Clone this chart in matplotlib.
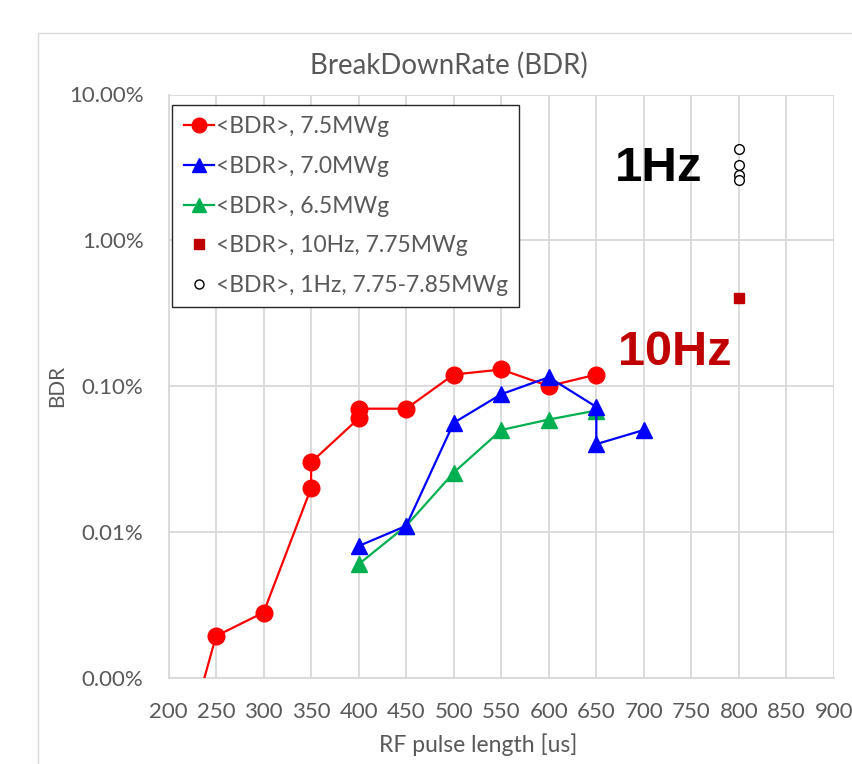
import matplotlib
matplotlib.use("Agg")
import matplotlib.pyplot as plt
from matplotlib.lines import Line2D
from matplotlib.patches import Rectangle
from matplotlib.ticker import FixedLocator, FuncFormatter, NullLocator

# Breakdown rate vs RF pulse length
red_x = [200, 250, 300, 350, 350, 400, 400, 450, 500, 550, 600, 650]
red_y = [1.3e-6, 1.93e-5, 2.8e-5, 2.0e-4, 3.0e-4, 6.0e-4, 7.0e-4, 7.0e-4, 1.2e-3, 1.3e-3, 1.0e-3, 1.2e-3]

blue_x = [400, 450, 500, 550, 600, 650, 650, 700]
blue_y = [8.0e-5, 1.1e-4, 5.6e-4, 8.8e-4, 1.15e-3, 7.2e-4, 4.0e-4, 5.0e-4]

green_x = [400, 450, 500, 550, 600, 650]
green_y = [6.0e-5, 1.1e-4, 2.55e-4, 5.0e-4, 5.9e-4, 6.8e-4]

hz10_x = [800]
hz10_y = [4.0e-3]

hz1_x = [800, 800, 800, 800]
hz1_y = [4.25e-2, 3.3e-2, 2.8e-2, 2.6e-2]

labels = ["<BDR>, 7.5MWg", "<BDR>, 7.0MWg", "<BDR>, 6.5MWg",
          "<BDR>, 10Hz, 7.75MWg", "<BDR>, 1Hz, 7.75-7.85MWg"]
x_ticks = list(range(200, 901, 50))
y_ticks = [1e-5, 1e-4, 1e-3, 1e-2, 1e-1]

W, H = 852, 764
plt.rcParams['font.family'] = ['Lato', 'DejaVu Sans']
fig = plt.figure(figsize=(W / 100, H / 100), dpi=100)

GRAY_TXT = "#595959"
GRID = "#D9D9D9"

# chart area outline
fig.patches.append(Rectangle((38 / W, -0.1), 1.2, (H - 33) / H + 0.1,
                             transform=fig.transFigure, fill=False,
                             edgecolor=GRID, linewidth=1.0))

ax = fig.add_axes([168.5 / W, 1 - 677.7 / H, (834 - 168.5) / W, (677.7 - 94.5) / H])
ax.set_yscale("log")
ax.set_xlim(200, 900)
ax.set_ylim(1e-5, 1e-1)

ax.xaxis.set_major_locator(FixedLocator(x_ticks))
ax.yaxis.set_major_locator(FixedLocator(y_ticks))
ax.yaxis.set_minor_locator(NullLocator())
ax.yaxis.set_major_formatter(FuncFormatter(lambda v, p: f"{v * 100:.2f}%"))
ax.grid(True, color=GRID, linewidth=1.3)
ax.set_axisbelow(True)
for s in ["top", "right"]:
    ax.spines[s].set_visible(False)
for s in ["left", "bottom"]:
    ax.spines[s].set_color(GRID)
    ax.spines[s].set_linewidth(1.3)
ax.tick_params(length=0, labelsize=16, colors=GRAY_TXT)
ax.tick_params(axis="x", pad=17.5)
ax.tick_params(axis="y", pad=18)

ax.plot(red_x, red_y, color="#FF0000", lw=1.6, marker="o", ms=12, zorder=3)
ax.plot(blue_x, blue_y, color="#0000FF", lw=1.6, marker="^", ms=11, zorder=4)
ax.plot(green_x, green_y, color="#00B050", lw=1.6, marker="^", ms=11, zorder=3)
ax.plot(hz10_x, hz10_y, ls="none", marker="s", ms=7.5, color="#C00000", zorder=5)
ax.plot(hz1_x, hz1_y, ls="none", marker="o", ms=7, mfc="white", mec="black",
        mew=1.0, zorder=5)

ax.text(0.671, 0.8517, "1Hz", transform=ax.transAxes, fontsize=35.5,
        fontweight="bold", family="Liberation Sans", color="black", va="baseline")
ax.text(0.6754, 0.536, "10Hz", transform=ax.transAxes, fontsize=35,
        fontweight="bold", family="Liberation Sans", color="#C00000", va="baseline")

handles = [
    Line2D([], [], color="#FF0000", lw=1.6, marker="o", ms=10.5),
    Line2D([], [], color="#0000FF", lw=1.6, marker="^", ms=10),
    Line2D([], [], color="#00B050", lw=1.6, marker="^", ms=10),
    Line2D([], [], ls="none", marker="s", ms=6.5, color="#C00000"),
    Line2D([], [], ls="none", marker="o", ms=6.5, mfc="white", mec="black", mew=1.0),
]
leg_fs = 16.5
leg = ax.legend(handles, labels, loc="upper left",
                bbox_to_anchor=(172.3 / W, 1 - 105 / H), bbox_transform=fig.transFigure,
                fontsize=leg_fs, labelcolor=GRAY_TXT, fancybox=False, framealpha=1,
                edgecolor="#262626", handlelength=1.3, handletextpad=0.1,
                labelspacing=0.81, borderpad=0.5, borderaxespad=0)
leg.get_frame().set_linewidth(1.0)

title = fig.text(449 / W, 1 - 65 / H, "BreakDownRate (BDR)", ha="center", va="center",
                 fontsize=20, color=GRAY_TXT)
xlab = fig.text(478 / W, 1 - 745 / H, "RF pulse length [us]", ha="center", va="center",
                fontsize=17, color=GRAY_TXT)
ylab = fig.text(57 / W, 1 - 386 / H, "BDR", ha="center", va="center", rotation=90,
                fontsize=15, color=GRAY_TXT)

# size the chart titles to their intended pixel extents
fig.canvas.draw()
renderer = fig.canvas.get_renderer()
for t, target, attr in [(title, 278, "width"), (xlab, 197, "width"), (ylab, 42, "height")]:
    ext = t.get_window_extent(renderer)
    cur = getattr(ext, attr)
    t.set_fontsize(t.get_fontsize() * target / cur)

fig.savefig("out.png", dpi=100)
